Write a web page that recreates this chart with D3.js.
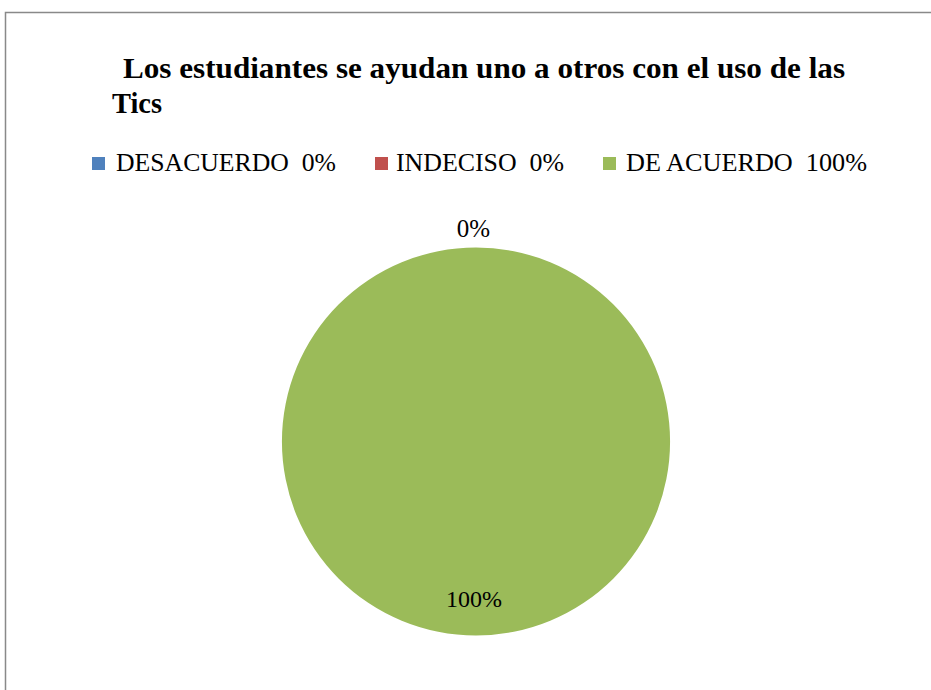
<!DOCTYPE html>
<html><head><meta charset="utf-8">
<script src="https://cdn.jsdelivr.net/npm/d3@7"></script>
<style>html,body{margin:0;padding:0;background:#fff;}svg{display:block;}text{white-space:pre;}</style>
</head><body>
<script>
const categories = ["DESACUERDO", "INDECISO", "DE ACUERDO"];
const values = [0, 0, 100];
const legendLabels = ["DESACUERDO  0%", "INDECISO  0%", "DE ACUERDO  100%"];
const colors = ["#4F81BD", "#C0504D", "#9BBB59"];
const titleLines = ["Los estudiantes se ayudan uno a otros con el uso de las", "Tics"];

const W = 931, H = 690;
const svg = d3.select("body").append("svg").attr("width", W).attr("height", H);
const font = "'Liberation Serif','Times New Roman','DejaVu Serif',serif";

// border
svg.append("path").attr("d", `M5.5,${H} V12.5 H${W}`).attr("fill", "none").attr("stroke", "#898989").attr("stroke-width", 1.5);

// title
const t = svg.append("text").attr("font-family", font).attr("font-weight", "bold").attr("font-size", 30).attr("fill", "#000");
t.append("tspan").attr("x", 123).attr("y", 78).attr("textLength", 722).attr("lengthAdjust", "spacingAndGlyphs").text(titleLines[0]);
const t2 = svg.append("text").attr("font-family", font).attr("font-weight", "bold").attr("font-size", 30).attr("fill", "#000");
t2.append("tspan").attr("x", 112).attr("y", 113).attr("textLength", 50).attr("lengthAdjust", "spacingAndGlyphs").text(titleLines[1]);

// legend
const legX = [92, 375, 603];
const legTextX = [116, 396, 626];
const legLen = [220, 168, 241];
const lg = svg.append("g");
categories.forEach((c, i) => {
  lg.append("rect").attr("x", legX[i]).attr("y", 157).attr("width", 13).attr("height", 13).attr("fill", colors[i]);
  lg.append("text").attr("x", legTextX[i]).attr("y", 171).attr("font-family", font).attr("font-size", 25)
    .attr("textLength", legLen[i]).attr("lengthAdjust", "spacingAndGlyphs")
    .attr("fill", "#000").text(legendLabels[i]);
});

// pie
const cx = 476, cy = 441.5, r = 194;
const pie = d3.pie().sort(null).value(d => d)(values);
const arc = d3.arc().innerRadius(0).outerRadius(r);
const g = svg.append("g").attr("transform", `translate(${cx},${cy})`);
g.selectAll("path").data(pie).enter().append("path")
  .attr("d", arc).attr("fill", (d, i) => colors[i]);

// data labels
const total = d3.sum(values);
const fmt = v => Math.round(v / total * 100) + "%";
g.append("text").attr("x", -2.5).attr("y", -205).attr("text-anchor", "middle")
  .attr("font-family", font).attr("font-size", 25).attr("fill", "#000").text(fmt(values[0]));
g.append("text").attr("x", -2).attr("y", 165.5).attr("text-anchor", "middle")
  .attr("font-family", font).attr("font-size", 24).attr("fill", "#000").text(fmt(values[2]));
</script>
</body></html>
